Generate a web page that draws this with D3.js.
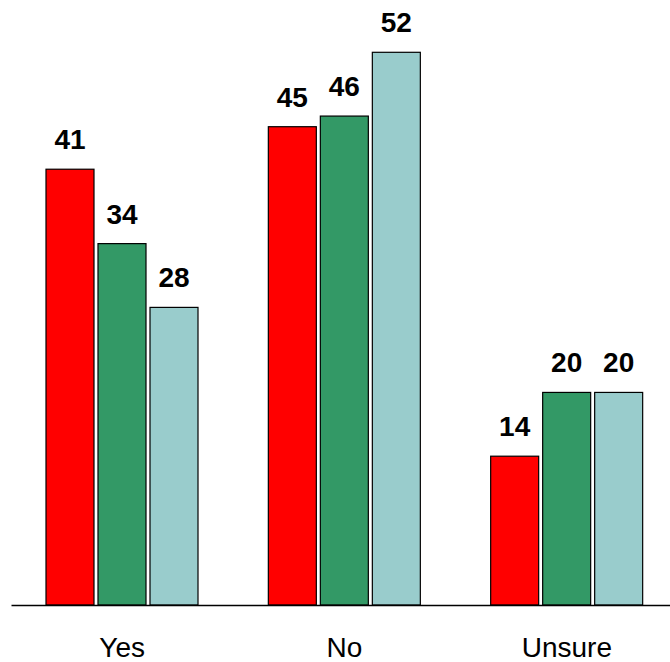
<!DOCTYPE html>
<html>
<head>
<meta charset="utf-8">
<script src="https://cdn.jsdelivr.net/npm/d3@7"></script>
<style>
  html, body { margin: 0; padding: 0; background: #fff; }
  svg { display: block; }
</style>
</head>
<body>
<svg id="chart" width="670" height="662"></svg>
<script>
// Answer categories and the three series of percentages
const categories = ["Yes", "No", "Unsure"];
const seriesNames = ["A", "B", "C"];
const seriesA = [41, 45, 14];
const seriesB = [34, 46, 20];
const seriesC = [28, 52, 20];
const seriesColors = ["#ff0000", "#339966", "#99cccc"];

const seriesValues = [seriesA, seriesB, seriesC];
const rows = categories.map((c, i) => ({
  category: c,
  values: seriesNames.map((s, j) => ({ series: s, value: seriesValues[j][i], color: seriesColors[j] }))
}));

const svg = d3.select("#chart");
const baseY = 605;

const x0 = d3.scaleBand().domain(categories).range([11, 678]);
const x1 = d3.scaleBand().domain(seriesNames).range([35, 187]).paddingInner(0.077).paddingOuter(0);
const y = d3.scaleLinear().domain([0, 52]).range([baseY, 52.3]);

const groups = svg.append("g")
  .selectAll("g")
  .data(rows)
  .join("g")
  .attr("transform", d => `translate(${x0(d.category)},0)`);

groups.selectAll("rect")
  .data(d => d.values)
  .join("rect")
  .attr("x", d => x1(d.series))
  .attr("y", d => y(d.value))
  .attr("width", x1.bandwidth())
  .attr("height", d => baseY - y(d.value))
  .attr("fill", d => d.color)
  .attr("stroke", "#000")
  .attr("stroke-width", 1.2);

groups.selectAll("text.val")
  .data(d => d.values)
  .join("text")
  .attr("class", "val")
  .attr("x", d => x1(d.series) + x1.bandwidth() / 2)
  .attr("y", d => y(d.value) - 20)
  .attr("text-anchor", "middle")
  .attr("font-family", "Liberation Sans, Arial, sans-serif")
  .attr("font-weight", "bold")
  .attr("font-size", 28)
  .attr("fill", "#000")
  .text(d => d.value);

const axis = svg.append("g")
  .attr("transform", `translate(0,${baseY})`)
  .call(d3.axisBottom(x0).tickSize(0).tickPadding(32).tickSizeOuter(0));

axis.select(".domain")
  .attr("stroke", "#000")
  .attr("stroke-width", 1.3);

axis.selectAll(".tick text")
  .attr("font-family", "Liberation Sans, Arial, sans-serif")
  .attr("font-size", 28)
  .attr("fill", "#000");
</script>
</body>
</html>
